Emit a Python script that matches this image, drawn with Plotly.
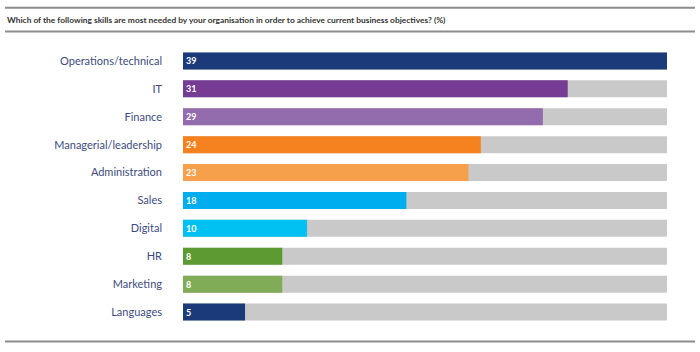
import plotly.graph_objects as go

categories = ["Operations/technical", "IT", "Finance", "Managerial/leadership", "Administration",
              "Sales", "Digital", "HR", "Marketing", "Languages"]
values = [39, 31, 29, 24, 23, 18, 10, 8, 8, 5]
colors = ["#1b3a7a", "#763c94", "#936cae", "#f5821f", "#f7a04c",
          "#00aeef", "#00c1f1", "#5b9b32", "#80ab57", "#1b3a7a"]
title_text = "Which of the following skills are most needed by your organisation in order to achieve current business objectives? (%)"

W, H = 700, 352
L, R, T, B = 183, 33, 46.5, 25.5
pw = W - L - R
ph = H - T - B
vmax = max(values)

def px(x):
    return (x - L) / pw

def py(y):
    return 1 - (y - T) / ph

fig = go.Figure()
fig.add_trace(go.Bar(
    y=categories, x=[vmax] * len(values), orientation="h",
    marker=dict(color="#c9c9ca", line=dict(width=0)), hoverinfo="skip", showlegend=False,
))
fig.add_trace(go.Bar(
    y=categories, x=values, orientation="h",
    marker=dict(color=colors, line=dict(width=0)),
    text=[str(v) for v in values], textposition="inside", insidetextanchor="start",
    textfont=dict(color="white", size=9, family="Lato", weight="bold"),
    showlegend=False,
))

fig.update_layout(
    width=W, height=H, barmode="overlay", bargap=0.39,
    margin=dict(l=L, r=R, t=T, b=B),
    paper_bgcolor="white", plot_bgcolor="white",
    xaxis=dict(range=[0, vmax], visible=False, fixedrange=True),
    yaxis=dict(autorange="reversed", showgrid=False, showline=False, zeroline=False,
               ticks="", ticklabelstandoff=20,
               tickfont=dict(family="Lato", size=11, color="#3d4b80")),
    shapes=[
        dict(type="line", xref="paper", yref="paper", x0=px(5), x1=px(695), y0=py(7), y1=py(7),
             line=dict(color="#8c8c8c", width=2)),
        dict(type="line", xref="paper", yref="paper", x0=px(5), x1=px(695), y0=py(31), y1=py(31),
             line=dict(color="#8c8c8c", width=2)),
        dict(type="line", xref="paper", yref="paper", x0=px(5), x1=px(695), y0=py(342), y1=py(342),
             line=dict(color="#8c8c8c", width=2)),
    ],
    annotations=[dict(
        text=title_text, xref="paper", yref="paper", x=px(5), y=py(19),
        xanchor="left", yanchor="middle", showarrow=False,
        font=dict(family="Lato", size=8.4, color="#333333", weight="bold"),
    )],
)

fig.write_html("out.html")
